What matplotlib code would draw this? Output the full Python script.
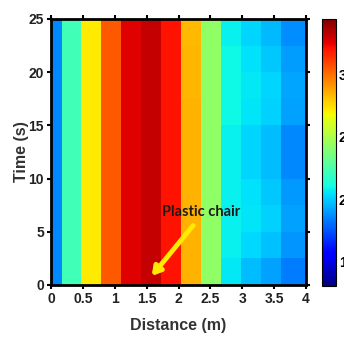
import numpy as np
import matplotlib
matplotlib.use("Agg")
import matplotlib.pyplot as plt

# ---- data ----
distance_edges = [0, 0.17, 0.47, 0.79, 1.10, 1.41, 1.73, 2.04, 2.35, 2.67, 2.98, 3.29, 3.61, 4.0]
time_edges = [0, 2.5, 5, 7.5, 10, 12.5, 15, 17.5, 20, 22.5, 25]
# rows: time (bottom -> top), columns: distance (left -> right)
values = [
    [1.86, 2.22, 2.72, 3.05, 3.27, 3.32, 3.21, 2.85, 2.43, 2.06, 1.97, 1.91, 1.83],
    [1.86, 2.22, 2.72, 3.05, 3.27, 3.32, 3.21, 2.85, 2.43, 2.08, 2.03, 1.98, 1.88],
    [1.86, 2.22, 2.72, 3.05, 3.27, 3.32, 3.21, 2.85, 2.43, 2.08, 2.05, 2.01, 1.91],
    [1.86, 2.22, 2.72, 3.05, 3.27, 3.32, 3.21, 2.85, 2.43, 2.08, 2.04, 1.99, 1.89],
    [1.86, 2.22, 2.72, 3.05, 3.27, 3.32, 3.21, 2.85, 2.43, 2.08, 2.02, 1.97, 1.86],
    [1.86, 2.22, 2.72, 3.05, 3.27, 3.32, 3.21, 2.85, 2.43, 2.08, 2.02, 1.97, 1.86],
    [1.86, 2.22, 2.72, 3.05, 3.27, 3.32, 3.21, 2.85, 2.43, 2.09, 2.05, 2.01, 1.91],
    [1.86, 2.22, 2.72, 3.05, 3.27, 3.32, 3.21, 2.84, 2.43, 2.09, 2.06, 2.02, 1.92],
    [1.86, 2.22, 2.72, 3.05, 3.27, 3.32, 3.21, 2.84, 2.43, 2.09, 2.04, 1.99, 1.90],
    [1.86, 2.22, 2.72, 3.05, 3.27, 3.32, 3.21, 2.83, 2.43, 2.08, 2.02, 1.96, 1.87],
]
vmin, vmax = 1.3, 3.45
x_ticks = [0, 0.5, 1, 1.5, 2, 2.5, 3, 3.5, 4]
x_ticklabels = ["0", "0.5", "1", "1.5", "2", "2.5", "3", "3.5", "4"]
y_ticks = [0, 5, 10, 15, 20, 25]
cbar_ticks = [1.5, 2, 2.5, 3]
annotation_text = "Plastic chair"
arrow_tail = (2.23, 5.6)
arrow_head = (1.58, 0.85)

plt.rcParams['font.family'] = ['Liberation Sans Narrow', 'Liberation Sans', 'DejaVu Sans']

fig = plt.figure(figsize=(3.44, 3.38), dpi=100)
ax = fig.add_axes([51/344, 53/338, 255/344, 266/338])
mesh = ax.pcolormesh(distance_edges, time_edges, np.array(values), cmap='jet',
                     vmin=vmin, vmax=vmax, shading='flat')
ax.set_xlim(0, 4)
ax.set_ylim(0, 25)
ax.set_xticks(x_ticks)
ax.set_xticklabels(x_ticklabels)
ax.set_yticks(y_ticks)
ax.tick_params(direction='out', length=3, width=1.5, top=True, right=True,
               labelsize=10, pad=2)
for lbl in ax.get_xticklabels() + ax.get_yticklabels():
    lbl.set_fontweight('bold')
    lbl.set_color('#222222')
for s in ax.spines.values():
    s.set_linewidth(2)
ax.set_xlabel("Distance (m)", fontsize=11.5, fontweight='bold', color='#333333', labelpad=9)
ax.set_ylabel("Time (s)", fontsize=11.5, fontweight='bold', color='#333333', labelpad=0)

ax.annotate("", xy=arrow_head, xytext=arrow_tail,
            arrowprops=dict(arrowstyle='-|>,head_length=0.5,head_width=0.3',
                            color='#ffea00', lw=3.5, shrinkA=0, shrinkB=0))
ax.text(1.74, 6.2, annotation_text, fontsize=10.5, fontweight='bold',
        family=['Lato', 'DejaVu Sans'], color='#1a1a1a', va='bottom', ha='left')

cax = fig.add_axes([322/344, 52/338, 14/344, 267/338])
cb = fig.colorbar(mesh, cax=cax, ticks=cbar_ticks)
cb.outline.set_linewidth(0.8)
cb.ax.tick_params(length=0, labelsize=10, pad=2)
for lbl in cb.ax.get_yticklabels():
    lbl.set_fontweight('bold')

fig.savefig("out.png", dpi=100)
